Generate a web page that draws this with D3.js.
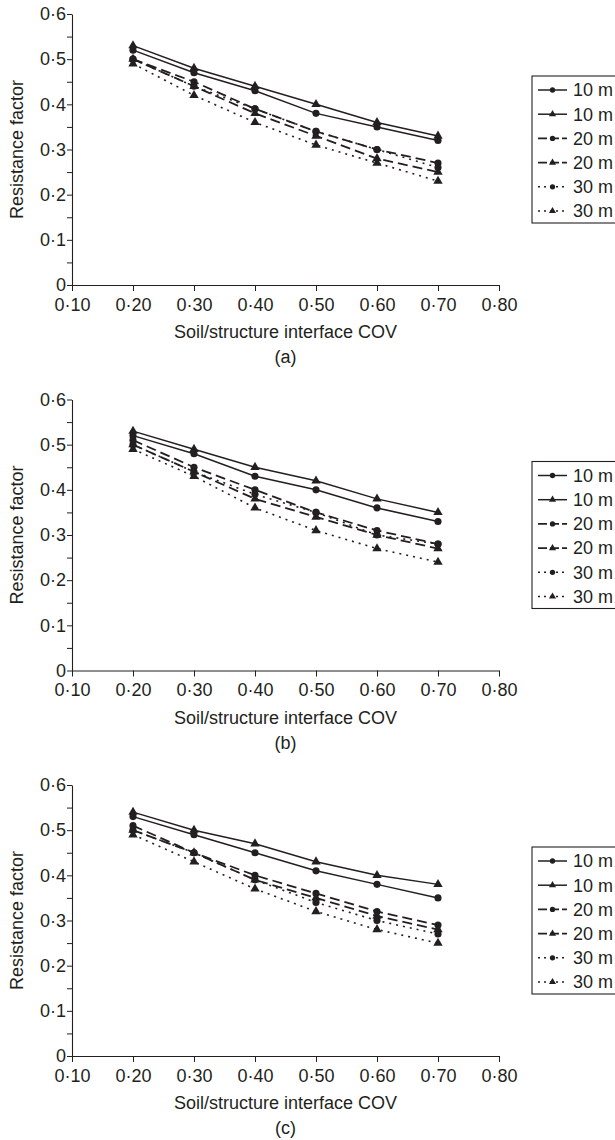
<!DOCTYPE html>
<html><head><meta charset="utf-8">
<script src="https://cdn.jsdelivr.net/npm/d3@7/dist/d3.min.js"></script>
<style>
html,body{margin:0;padding:0;background:#fff;}
svg{display:block;}
text{font-family:"Liberation Sans",Arial,Helvetica,sans-serif;fill:#231f20;}
</style></head>
<body><svg id="chart" width="615" height="1140"></svg>
<script>
// ---- data ----
const covs = [0.20, 0.30, 0.40, 0.50, 0.60, 0.70];
const xTicks = [0.10, 0.20, 0.30, 0.40, 0.50, 0.60, 0.70, 0.80];
const yTicks = [0, 0.1, 0.2, 0.3, 0.4, 0.5, 0.6];
const yMinorTicks = [0.05, 0.15, 0.25, 0.35, 0.45, 0.55];
const seriesLabels = ["10 m", "10 m", "20 m", "20 m", "30 m", "30 m"];
const seriesMarkers = ["circle", "triangle", "circle", "triangle", "circle", "triangle"];
const seriesLineTypes = ["solid", "solid", "dashed", "dashed", "dotted", "dotted"];
const panelCaptions = ["(a)", "(b)", "(c)"];

// panel (a)
const a10mCircle   = [0.52, 0.47, 0.43, 0.38, 0.35, 0.32];
const a10mTriangle = [0.53, 0.48, 0.44, 0.40, 0.36, 0.33];
const a20mCircle   = [0.50, 0.45, 0.39, 0.34, 0.30, 0.27];
const a20mTriangle = [0.50, 0.44, 0.38, 0.33, 0.28, 0.25];
const a30mCircle   = [0.50, 0.44, 0.39, 0.34, 0.30, 0.26];
const a30mTriangle = [0.49, 0.42, 0.36, 0.31, 0.27, 0.23];
// panel (b)
const b10mCircle   = [0.52, 0.48, 0.43, 0.40, 0.36, 0.33];
const b10mTriangle = [0.53, 0.49, 0.45, 0.42, 0.38, 0.35];
const b20mCircle   = [0.51, 0.45, 0.40, 0.35, 0.31, 0.28];
const b20mTriangle = [0.50, 0.44, 0.38, 0.34, 0.30, 0.27];
const b30mCircle   = [0.50, 0.44, 0.39, 0.35, 0.30, 0.28];
const b30mTriangle = [0.49, 0.43, 0.36, 0.31, 0.27, 0.24];
// panel (c)
const c10mCircle   = [0.53, 0.49, 0.45, 0.41, 0.38, 0.35];
const c10mTriangle = [0.54, 0.50, 0.47, 0.43, 0.40, 0.38];
const c20mCircle   = [0.51, 0.45, 0.40, 0.36, 0.32, 0.29];
const c20mTriangle = [0.50, 0.45, 0.39, 0.35, 0.31, 0.28];
const c30mCircle   = [0.50, 0.45, 0.39, 0.34, 0.30, 0.27];
const c30mTriangle = [0.49, 0.43, 0.37, 0.32, 0.28, 0.25];

const panels = [
  [a10mCircle, a10mTriangle, a20mCircle, a20mTriangle, a30mCircle, a30mTriangle],
  [b10mCircle, b10mTriangle, b20mCircle, b20mTriangle, b30mCircle, b30mTriangle],
  [c10mCircle, c10mTriangle, c20mCircle, c20mTriangle, c30mCircle, c30mTriangle]
];

// ---- styles ----
const INK = "#231f20";
const dashFor = {solid: null, dashed: "10,5", dotted: "2,5"};
const widthFor = {solid: 1.5, dashed: 1.8, dotted: 1.6};
const fmtX = d => d3.format(".2f")(d).replace(".", "\u00B7");
const fmtY = d => d === 0 ? "0" : d3.format(".1f")(d).replace(".", "\u00B7");

const svg = d3.select("#chart");
const x = d3.scaleLinear().domain([0.10, 0.80]).range([72, 499]);
const y = d3.scaleLinear().domain([0, 0.6]).range([285, 14]);
const PANEL_STEP = 385.5;
const FS = 18;

function symbolPath(kind, size) {
  return d3.symbol().type(kind === "circle" ? d3.symbolCircle : d3.symbolTriangle).size(size)();
}

panels.forEach((series, pi) => {
  const g = svg.append("g").attr("transform", `translate(0,${pi * PANEL_STEP})`);

  // y axis
  g.append("g").attr("transform", `translate(${x.range()[0]},0)`)
    .call(d3.axisLeft(y).tickValues(yTicks).tickFormat(fmtY).tickSize(5).tickPadding(1).tickSizeOuter(0));
  g.append("g").attr("transform", `translate(${x.range()[0]},0)`)
    .call(d3.axisLeft(y).tickValues(yMinorTicks).tickFormat("").tickSize(5).tickSizeOuter(0))
    .select(".domain").remove();
  // x axis
  g.append("g").attr("transform", `translate(0,${y(0)})`)
    .call(d3.axisBottom(x).tickValues(xTicks).tickFormat(fmtX).tickSize(6).tickPadding(7).tickSizeOuter(0));

  g.selectAll(".domain").attr("stroke", INK).attr("stroke-width", 1.1);
  g.selectAll(".tick line").attr("stroke", INK).attr("stroke-width", 1);
  g.selectAll(".tick text").attr("font-size", FS).attr("font-family", "Liberation Sans, Arial, sans-serif").attr("fill", INK);

  // titles
  const cx = (x.range()[0] + x.range()[1]) / 2;
  g.append("text").attr("x", cx).attr("y", y(0) + 53)
    .attr("text-anchor", "middle").attr("font-size", FS).text("Soil/structure interface COV");
  g.append("text").attr("x", cx).attr("y", y(0) + 78)
    .attr("text-anchor", "middle").attr("font-size", FS).text(panelCaptions[pi]);
  g.append("text").attr("transform", `translate(23,${(y(0) + y(0.6)) / 2}) rotate(-90)`)
    .attr("text-anchor", "middle").attr("font-size", FS).text("Resistance factor");

  // lines
  const line = d3.line().x((d, i) => x(covs[i])).y(d => y(d));
  series.forEach((vals, si) => {
    const lt = seriesLineTypes[si];
    g.append("path").datum(vals).attr("d", line)
      .attr("fill", "none").attr("stroke", INK)
      .attr("stroke-width", widthFor[lt])
      .attr("stroke-dasharray", dashFor[lt]);
  });
  // markers
  series.forEach((vals, si) => {
    g.selectAll(null).data(vals).enter().append("path")
      .attr("transform", (d, i) => `translate(${x(covs[i])},${y(d)})`)
      .attr("d", symbolPath(seriesMarkers[si], seriesMarkers[si] === "circle" ? 40 : 38))
      .attr("fill", INK);
  });

  // legend
  const lg = g.append("g").attr("transform", "translate(532,76)");
  lg.append("rect").attr("x", 0).attr("y", 0).attr("width", 120).attr("height", 147)
    .attr("fill", "#fff").attr("stroke", INK).attr("stroke-width", 1.1);
  seriesLabels.forEach((lab, si) => {
    const ry = 14 + si * 24.2;
    const lt = seriesLineTypes[si];
    lg.append("line").attr("x1", 6).attr("x2", 35).attr("y1", ry).attr("y2", ry)
      .attr("stroke", INK).attr("stroke-width", widthFor[lt])
      .attr("stroke-dasharray", lt === "solid" ? null : (lt === "dashed" ? "9,3" : "2,4"));
    lg.append("path").attr("transform", `translate(20.5,${ry})`)
      .attr("d", symbolPath(seriesMarkers[si], 22)).attr("fill", INK);
    lg.append("text").attr("x", 41).attr("y", ry).attr("dy", "0.35em")
      .attr("font-size", FS).text(lab);
  });
});
</script></body></html>
